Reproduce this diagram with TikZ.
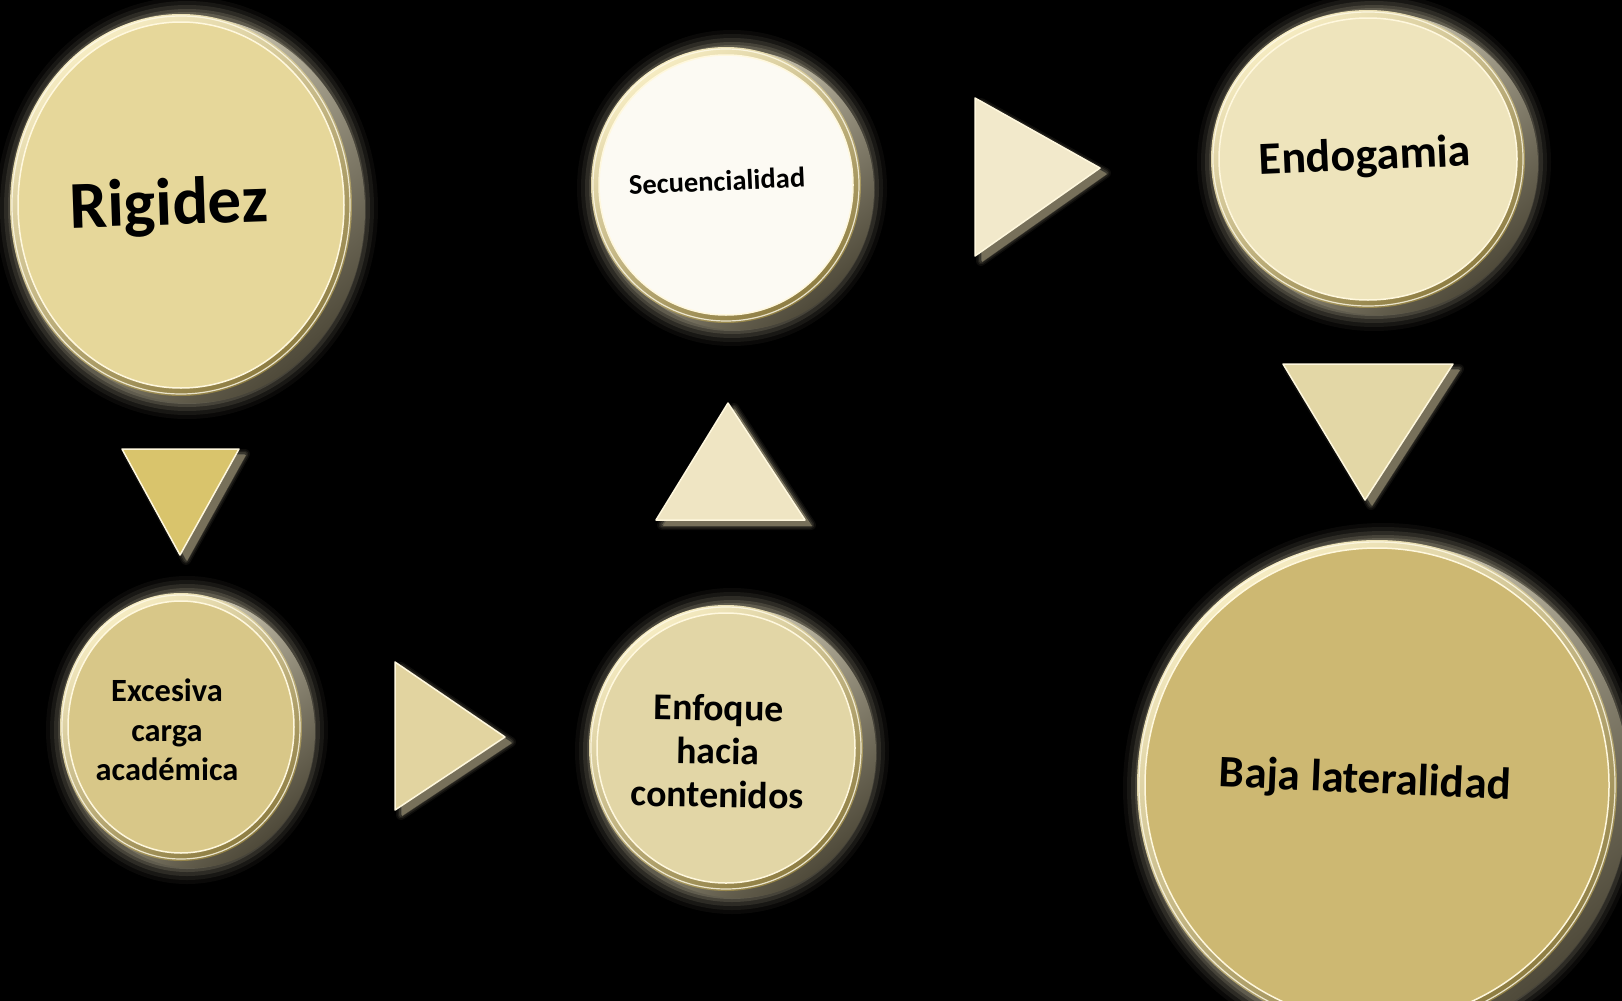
\documentclass[tikz,border=0pt]{standalone}
\usepackage{fontspec}
\setmainfont{Carlito}
\usetikzlibrary{shapes.geometric}
\definecolor{halo}{HTML}{C9C2A4}
\definecolor{edgelight}{HTML}{E2DCC6}
\definecolor{edgedark}{HTML}{4F4A3A}
\definecolor{rimlight}{HTML}{F6ECC2}
\definecolor{rimdark}{HTML}{8E7D42}
\definecolor{faceline}{HTML}{FFF8DE}
\definecolor{rimshine}{HTML}{FFFBEA}
\definecolor{trishadow}{HTML}{77705A}
\tikzset{
  face/.style={ellipse, inner sep=0pt, draw=faceline, line width=1.5pt},
  lbl/.style={align=center, font=\bfseries, text=black, inner sep=0pt},
  tri/.style={draw=faceline, line width=1.5pt, line join=round},
  trishade/.style={fill=trishadow, line join=round},
  rimline/.style={draw=rimshine, line width=1.2pt, opacity=0.8},
}
% #1 cx, #2 cy, #3 rx, #4 ry, #5 face colour (HTML), #6 node name
\newcommand\metaldisc[6]{%
  \definecolor{fc#6}{HTML}{#5}%
  \foreach \r/\o in {18/0.05,14/0.08,10/0.12,6/0.16,3/0.2}{%
    \fill[halo,opacity=\o] (#1+6,#2+3) ellipse [x radius=#3pt+\r pt, y radius=#4pt+\r pt];}
  \shade[top color=edgelight, bottom color=edgedark, shading angle=40]
    (#1+11,#2+5) ellipse [x radius=#3pt, y radius=#4pt];
  \shade[top color=rimlight, bottom color=rimdark, shading angle=35]
    (#1,#2) ellipse [x radius=#3pt-2pt, y radius=#4pt-2pt];
  \draw[rimline] (#1,#2) ellipse [x radius=#3pt-4pt, y radius=#4pt-4pt];
  \node[face, fill=fc#6, minimum width=2*#3pt-20pt, minimum height=2*#4pt-20pt] (#6) at (#1,#2) {};
}
\begin{document}
\begin{tikzpicture}[x=1pt,y=-1pt]
\fill[black] (0,0) rectangle (1622,1001);
\useasboundingbox (0,0) rectangle (1622,1001);

% discs
\metaldisc{181}{205}{173}{193}{E6D79A}{rig}
\metaldisc{726}{185}{137}{140}{FCFAF3}{sec}
\metaldisc{1368}{159}{159}{151}{EEE4BC}{endo}
\metaldisc{181}{727}{123}{136}{D8C788}{exc}
\metaldisc{726}{748}{139}{145}{E2D6A6}{enf}
\metaldisc{1377}{785}{242}{247}{CDB872}{baja}

% labels
\node[lbl, font=\bfseries\fontsize{67}{72}\selectfont, rotate=2] (rigT) at (169,207) {Rigidez};
\node[lbl, font=\bfseries\fontsize{28.5}{32}\selectfont, rotate=2.5] (secT) at (717,181) {Secuencialidad};
\node[lbl, font=\bfseries\fontsize{46}{50}\selectfont, rotate=2.5] (endoT) at (1365,158) {Endogamia};
\node[lbl, font=\bfseries\fontsize{32.4}{39.5}\selectfont] (excT) at (167,730) {Excesiva\\carga\\académica};
\node[lbl, font=\bfseries\fontsize{37.8}{43.5}\selectfont, rotate=-1] (enfT) at (718,751) {Enfoque\\hacia\\contenidos};
\node[lbl, font=\bfseries\fontsize{45}{50}\selectfont, rotate=-2.5] (bajaT) at (1365,781) {Baja lateralidad};

% triangle arrows
\coordinate (t1a) at (122,449); \coordinate (t1b) at (239,449); \coordinate (t1c) at (180,555);
\coordinate (t2a) at (395,662); \coordinate (t2b) at (395,810); \coordinate (t2c) at (505,737);
\coordinate (t3a) at (728,403); \coordinate (t3b) at (805,520); \coordinate (t3c) at (656,520);
\coordinate (t4a) at (975,98);  \coordinate (t4b) at (1100,168); \coordinate (t4c) at (975,256);
\coordinate (t5a) at (1283,364); \coordinate (t5b) at (1453,364); \coordinate (t5c) at (1365,500);

\foreach \a/\b/\c/\col in {t1a/t1b/t1c/D9C46C, t2a/t2b/t2c/E2D4A0, t3a/t3b/t3c/EFE5C3, t4a/t4b/t4c/F2E9CB, t5a/t5b/t5c/E3D7A6}{
  \foreach \r/\o in {10/0.07,7/0.1,4/0.14}{
    \fill[halo,opacity=\o,line join=round,draw=halo,line width=\r pt]
      ([shift={(6,5)}]\a) -- ([shift={(6,5)}]\b) -- ([shift={(6,5)}]\c) -- cycle;}
  \fill[trishade] ([shift={(7,6)}]\a) -- ([shift={(7,6)}]\b) -- ([shift={(7,6)}]\c) -- cycle;
  \definecolor{tc}{HTML}{\col}
  \draw[tri, fill=tc] (\a) -- (\b) -- (\c) -- cycle;
}
\end{tikzpicture}
\end{document}
